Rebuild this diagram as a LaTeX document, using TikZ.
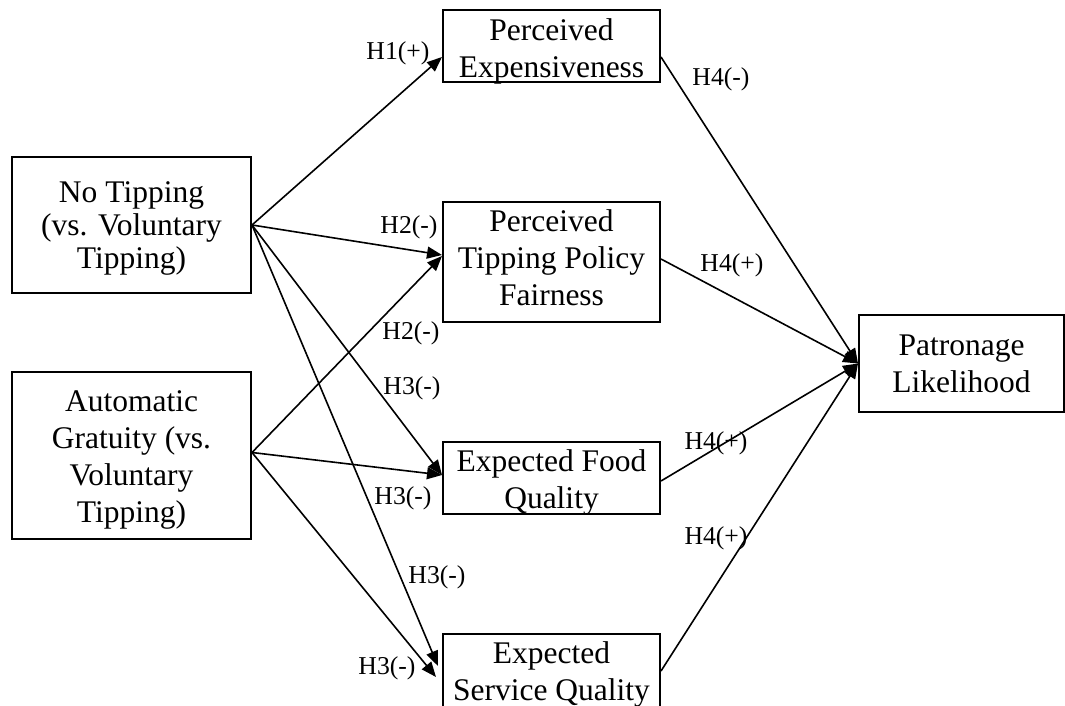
\documentclass[tikz,border=0pt]{standalone}
\usepackage{fontspec}
\setmainfont{Liberation Serif}
\usetikzlibrary{arrows.meta}

\begin{document}
\begin{tikzpicture}[x=0.5pt, y=-0.5pt,
    box/.style={draw, line width=1pt, inner sep=0pt, align=center,
        font=\fontsize{15.75}{18.5}\selectfont},
    lastline/.style={text depth=0pt, text height=#1},
    hyp/.style={inner sep=0pt, font=\fontsize{12.85}{14}\selectfont},
    effect/.style={line width=0.8pt, -{Triangle[length=7.5pt, width=6pt]}}]
    \useasboundingbox (0,0) rectangle (1065,706);
    % manipulated policies
    \node [box, lastline=43pt, minimum width=119.5pt, minimum height=68pt,
        font=\fontsize{15.75}{16.5}\selectfont] (nt) at (131.5,225)
        {No Tipping\\(vs. Voluntary\\Tipping)};
    \node [box, lastline=66.5pt, minimum width=119.5pt, minimum height=83.5pt] (ag) at (131.5,455.5)
        {Automatic\\Gratuity (vs.\\Voluntary\\Tipping)};
    % mediators
    \node [box, lastline=32pt, minimum width=108.5pt, minimum height=36pt] (pe) at (551.5,46)
        {Perceived\\Expensiveness};
    \node [box, lastline=43pt, minimum width=108.5pt, minimum height=60pt] (ptpf) at (551.5,262)
        {Perceived\\Tipping Policy\\Fairness};
    \node [box, lastline=30pt, minimum width=108.5pt, minimum height=36pt] (efq) at (551.5,478)
        {Expected Food\\Quality};
    \node [box, lastline=29pt, minimum width=108.5pt, minimum height=37pt] (esq) at (551.5,671)
        {Expected\\Service Quality};
    % outcome
    \node [box, lastline=28.5pt, minimum width=102.5pt, minimum height=48.5pt] (pl) at (961.5,363.5)
        {Patronage\\Likelihood};

    % paths from the policies
    \draw [effect] (nt.east) -- ([yshift=-5.5pt]pe.west);
    \draw [effect] (nt.east) -- ([yshift=3.5pt]ptpf.west);
    \draw [effect] ([yshift=1.5pt]ag.east) -- ([yshift=3pt]ptpf.west);
    \draw [effect] (nt.east) -- ([yshift=1.5pt]efq.west);
    \draw [effect] ([yshift=1.5pt]ag.east) -- ([yshift=1.5pt]efq.west);
    \draw [effect] (nt.east) -- ([shift={(-2pt,2.5pt)}]esq.west);
    \draw [effect] ([yshift=1.5pt]ag.east) -- ([shift={(-3pt,-3pt)}]esq.west);
    % paths to patronage
    \draw [effect] ([yshift=-5.5pt]pe.east) -- (pl.west);
    \draw [effect] ([yshift=1.5pt]ptpf.east) -- (pl.west);
    \draw [effect] ([yshift=-1.5pt]efq.east) -- (pl.west);
    \draw [effect] (esq.east) -- (pl.west);

    % hypotheses
    \node [hyp] (h1) at (398,53) {H1(+)};
    \node [hyp] (h2a) at (409,227) {H2(-)};
    \node [hyp] (h2b) at (411,333) {H2(-)};
    \node [hyp] (h3a) at (412,388) {H3(-)};
    \node [hyp] (h3b) at (403,498) {H3(-)};
    \node [hyp] (h3c) at (437,577) {H3(-)};
    \node [hyp] (h3d) at (387,668) {H3(-)};
    \node [hyp] (h4a) at (721,79) {H4(-)};
    \node [hyp] (h4b) at (732,265) {H4(+)};
    \node [hyp] (h4c) at (716,443) {H4(+)};
    \node [hyp] (h4d) at (716,538) {H4(+)};
\end{tikzpicture}
\end{document}
